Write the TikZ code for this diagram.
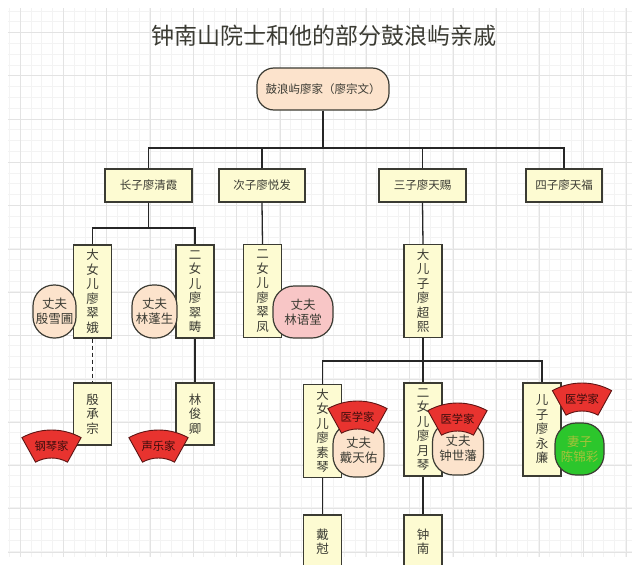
\documentclass[tikz,border=0pt]{standalone}
\usepackage{fontspec}
\setmainfont{Noto Sans CJK SC}
\usepackage{xcolor}
\definecolor{peach}{HTML}{FCE3CC}
\definecolor{paleyellow}{HTML}{FDFBD2}
\definecolor{rosepink}{HTML}{F8C6C6}
\definecolor{fanred}{HTML}{E8332F}
\definecolor{leafgreen}{HTML}{2CC62C}
\definecolor{limetext}{HTML}{A6C23A}
\definecolor{inkgray}{HTML}{3B3B33}
\definecolor{gridmajor}{HTML}{E3E3E3}
\definecolor{gridminor}{HTML}{F3F3F3}
\newcommand{\vertfont}{\fontsize{12.5}{14.5}\selectfont}
\newcommand{\fanlabel}[4]{%
  \coordinate (#1) at (#2,#3+61);
  \filldraw[fanline] (#1) ++(61:61pt) arc[start angle=61,end angle=119,radius=61pt]
    -- ++(299:28pt) arc[start angle=119,end angle=61,radius=33pt] -- cycle;
  \node[fantext] (#1t) at (#2,#3+16) {#4};}

\begin{document}
\begin{tikzpicture}[x=1pt,y=-1pt,line width=1.2pt,
  box/.style={draw=inkgray,fill=paleyellow,inner sep=0pt,text=inkgray},
  sonbox/.style={box,minimum width=87pt,minimum height=33pt,font=\fontsize{11.5}{14}\selectfont},
  girlbox/.style={box,minimum width=38pt,minimum height=93pt,align=center,font=\vertfont},
  kidbox/.style={girlbox,minimum height=62pt},
  husband/.style={draw=inkgray,fill=peach,rounded corners=21pt,inner sep=0pt,align=center,
    text=inkgray,minimum width=45pt,minimum height=53pt,font=\fontsize{12.5}{15}\selectfont},
  fanline/.style={draw=black!60!fanred,fill=fanred,line width=0.9pt},
  fantext/.style={text=black!75!fanred,font=\fontsize{11.3}{13}\selectfont},
  link/.style={draw=black!85,line width=1.3pt}]
  \useasboundingbox (0,0) rectangle (640,565);
  \clip (0,0) rectangle (640,565);
  \fill[white] (0,0) rectangle (640,565);
  % background grid
  \foreach \gx in {9.2,20,...,632} \draw[gridminor,line width=0.5pt] (\gx,8) -- (\gx,557);
  \foreach \gy in {10.8,21.6,...,557} \draw[gridminor,line width=0.5pt] (8,\gy) -- (632,\gy);
  \foreach \gx in {20,63.3,...,632} \draw[gridmajor,line width=0.6pt] (\gx,8) -- (\gx,557);
  \foreach \gy in {32.4,75.7,...,557} \draw[gridmajor,line width=0.6pt] (8,\gy) -- (632,\gy);

  \node[text=inkgray,font=\fontsize{23}{26}\selectfont] (heading) at (324,36) {钟南山院士和他的部分鼓浪屿亲戚};

  \node[box,fill=peach,rounded corners=17pt,minimum width=132pt,minimum height=42pt,
    font=\fontsize{11.5}{14}\selectfont] (ancestor) at (323,89) {鼓浪屿廖家（廖宗文）};

  \node[sonbox] (qingxia) at (148.5,185.5) {长子廖清霞};
  \node[sonbox,minimum width=86pt] (yuefa) at (262,185.5) {次子廖悦发};
  \node[sonbox] (tianci) at (422.5,185.5) {三子廖天赐};
  \node[sonbox,minimum width=76pt] (tianfu) at (564,185.5) {四子廖天福};

  \node[girlbox] (cuie) at (92.5,291.5) {大\\女\\儿\\廖\\翠\\娥};
  \node[girlbox] (cuichou) at (195,291.5) {二\\女\\儿\\廖\\翠\\畴};
  \node[girlbox] (cuifeng) at (262.5,291) {二\\女\\儿\\廖\\翠\\凤};
  \node[girlbox] (chaoxi) at (423,291) {大\\儿\\子\\廖\\超\\熙};

  \node[kidbox] (chengzong) at (92.5,414) {殷\\承\\宗};
  \node[kidbox] (junqing) at (195,414) {林\\俊\\卿};

  \node[girlbox] (suqin) at (322.5,431) {大\\女\\儿\\廖\\素\\琴};
  \node[girlbox] (yueqin) at (423,429.5) {二\\女\\儿\\廖\\月\\琴};
  \node[girlbox] (yonglian) at (542,429.5) {儿\\子\\廖\\永\\廉};

  % bottom row runs off the page
  \node[kidbox,minimum height=68pt] (kerong) at (322.5,549) {戴\\尅\\\phantom{戎}};
  \node[kidbox,minimum height=68pt] (nanshan) at (423,549) {钟\\南\\\phantom{山}};

  % connectors
  \coordinate (bus1) at (0,148);
  \coordinate (bus2) at (0,228);
  \coordinate (bus3) at (0,361);
  \draw[link] (ancestor.south) -- (ancestor.south |- bus1);
  \draw[link] (qingxia.north) -- (qingxia.north |- bus1) -- (tianfu.north |- bus1) -- (tianfu.north);
  \draw[link] (yuefa.north) -- (yuefa.north |- bus1);
  \draw[link] (tianci.north) -- (tianci.north |- bus1);
  \draw[link] (qingxia.south) -- (qingxia.south |- bus2);
  \draw[link] (cuie.north) -- (cuie.north |- bus2) -- (cuichou.north |- bus2) -- (cuichou.north);
  \draw[link] (yuefa.south) -- (cuifeng.north);
  \draw[link] (tianci.south) -- (chaoxi.north);
  \draw[link] (chaoxi.south) -- (yueqin.north);
  \draw[link] (suqin.north) -- (suqin.north |- bus3) -- (yonglian.north |- bus3) -- (yonglian.north);
  \draw[link,dash pattern=on 4pt off 3pt] (cuie.south) -- (chengzong.north);
  \draw[link] (cuichou.south) -- (junqing.north);
  \draw[link] (suqin.south) -- (kerong.north);
  \draw[link] (yueqin.south) -- (nanshan.north);

  \node[husband,minimum width=43pt] (xuepu) at (54.5,311.5) {丈夫\\殷雪圃};
  \node[husband] (pengsheng) at (154.5,311.5) {丈夫\\林蓬生};
  \node[husband,fill=rosepink,minimum width=60pt,minimum height=52pt] (yutang) at (303,312) {丈夫\\林语堂};
  \node[husband,minimum width=51pt,minimum height=54pt] (tianyou) at (358.5,450) {丈夫\\戴天佑};
  \node[husband,minimum width=51pt,minimum height=54pt] (shifan) at (458,448) {丈夫\\钟世藩};
  \node[husband,fill=leafgreen,text=limetext,minimum width=49pt,minimum height=52pt] (wanfu) at (579.5,449) {妻子\\陈锦彩};

  \fanlabel{fpiano}{51.5}{430}{钢琴家}
  \fanlabel{fvocal}{158.5}{430}{声乐家}
  \fanlabel{fdoca}{357.5}{401}{医学家}
  \fanlabel{fdocb}{457.5}{403}{医学家}
  \fanlabel{fdocc}{582}{383}{医学家}
\end{tikzpicture}
\end{document}
